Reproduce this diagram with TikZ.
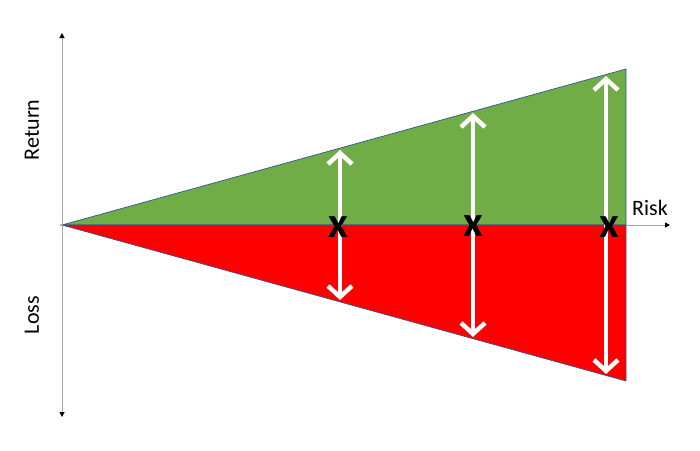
\documentclass[tikz,border=0pt]{standalone}
\usepackage{fontspec}
\setmainfont{Carlito}
\usetikzlibrary{arrows.meta}
\definecolor{gfill}{HTML}{70AD47}
\definecolor{rfill}{HTML}{FF0000}
\definecolor{edge}{HTML}{2F5597}
\definecolor{axisgray}{HTML}{A6A6A6}
\tikzset{
  axisline/.style={draw=axisgray, line width=1pt, -{Triangle[length=5pt,width=5pt,color=black]}},
  spread/.style={draw=white, line width=4.5pt, {Straight Barb[length=11pt,width=24pt,line width=4.5pt]}-{Straight Barb[length=11pt,width=24pt,line width=4.5pt]}, shorten <=2pt, shorten >=2pt},
  mark x/.style={font=\fontsize{43}{45}\selectfont\bfseries, inner sep=0pt, anchor=center},
  label text/.style={font=\fontsize{22}{24}\selectfont, inner sep=0pt}
}
\begin{document}
\begin{tikzpicture}[x=1pt,y=-1pt]
\useasboundingbox (0,0) rectangle (700,450);
% key points
\coordinate (O) at (62,225);
\coordinate (TR) at (626,69);
\coordinate (MR) at (626,225);
\coordinate (BR) at (626,381);
% triangles
\filldraw[fill=gfill, draw=edge, line width=0.7pt] (O) -- (TR) -- (MR) -- cycle;
\filldraw[fill=rfill, draw=edge, line width=0.7pt] (O) -- (MR) -- (BR) -- cycle;
% axes
\coordinate (ytop) at (62,33);
\coordinate (ybot) at (62,417);
\coordinate (xend) at (670,225);
\draw[axisline] (O) -- (ytop);
\draw[axisline] (O) -- (ybot);
\draw[axisline] (MR) -- (xend);
% labels
\node[label text, rotate=90] (ret) at (32,130) {Return};
\node[label text, rotate=90] (loss) at (32,315) {Loss};
\node[label text] (risk) at (650,208) {Risk};
% spread arrows
\coordinate (a1t) at (340,148);
\coordinate (a1b) at (340,302);
\coordinate (a2t) at (473,111);
\coordinate (a2b) at (473,339);
\coordinate (a3t) at (606,74);
\coordinate (a3b) at (606,376);
\draw[spread] (a1b) -- (a1t);
\draw[spread] (a2b) -- (a2t);
\draw[spread] (a3b) -- (a3t);
% X marks
\node[mark x] (x1) at (338,227) {x};
\node[mark x] (x2) at (473,226) {x};
\node[mark x] (x3) at (609,227) {x};
\end{tikzpicture}
\end{document}
